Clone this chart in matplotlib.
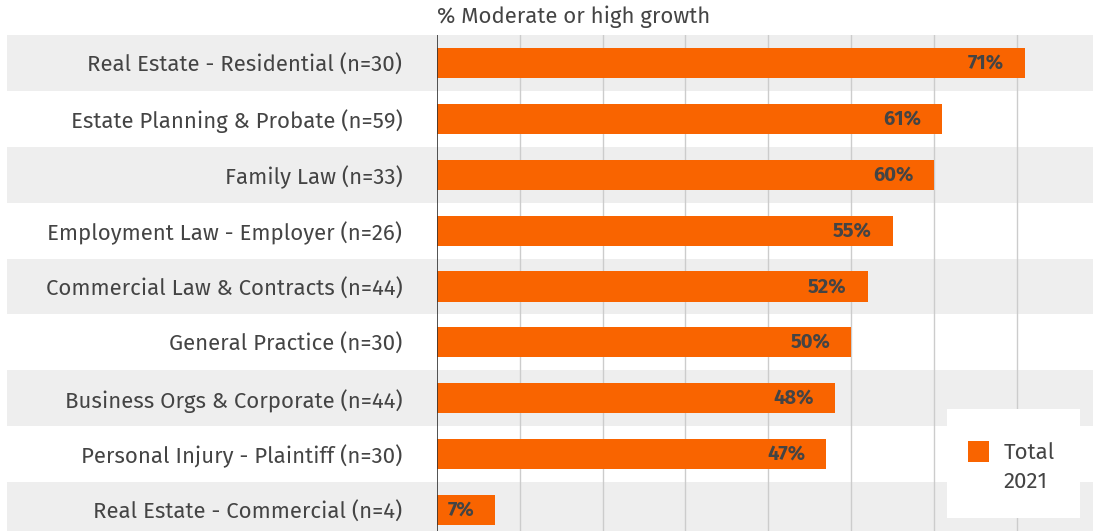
import matplotlib.pyplot as plt
from matplotlib.patches import Rectangle

categories = [
    "Real Estate - Residential (n=30)",
    "Estate Planning & Probate (n=59)",
    "Family Law (n=33)",
    "Employment Law - Employer (n=26)",
    "Commercial Law & Contracts (n=44)",
    "General Practice (n=30)",
    "Business Orgs & Corporate (n=44)",
    "Personal Injury - Plaintiff (n=30)",
    "Real Estate - Commercial (n=4)",
]
values = [71, 61, 60, 55, 52, 50, 48, 47, 7]
series_name = "Total\n2021"

orange = "#F96400"
textc = "#444444"
plt.rcParams['font.family'] = ['Fira Sans', 'Open Sans', 'DejaVu Sans']

fig = plt.figure(figsize=(10.93, 5.31), dpi=100)
ax = fig.add_axes([437 / 1093, 0, 1 - 437 / 1093, 1 - 35 / 531])

W = 1093 - 437
for i in range(len(categories)):
    if i % 2 == 0:
        ax.axhspan(i - 0.5, i + 0.5, xmin=(7 - 437) / W, xmax=1,
                   color="#eeeeee", clip_on=False, zorder=0, lw=0)

for g in range(10, 80, 10):
    ax.axvline(g, color="#cccccc", lw=1, zorder=1)

y = list(range(len(categories)))
ax.barh(y, values, height=0.54, color=orange, zorder=2)
for yi, v in zip(y, values):
    ax.annotate(f"{v}%", (v, yi), xytext=(-15, 0), textcoords="offset points",
                ha="right", va="center", fontsize=14.5, fontweight="bold",
                color=textc, zorder=3)

ax.axvline(0, color="#333333", lw=1.2, zorder=4)
ax.set_xlim(0, 79.2)
ax.set_ylim(8.375, -0.5)
ax.set_yticks(y)
ax.set_yticklabels(categories, fontsize=16, color=textc)
ax.tick_params(axis="y", length=0, pad=25)
ax.set_xticks([])
for s in ax.spines.values():
    s.set_visible(False)

fig.text(437 / 1093, 1 - 17 / 531, "% Moderate or high growth", fontsize=16,
         color=textc, ha="left", va="center")

# legend box
fig.patches.append(Rectangle((947 / 1093, 1 - 518 / 531), 133 / 1093, 109 / 531,
                             transform=fig.transFigure, facecolor="white",
                             edgecolor="none", zorder=5))
fig.patches.append(Rectangle((968 / 1093, 1 - 462 / 531), 21 / 1093, 21 / 531,
                             transform=fig.transFigure, facecolor=orange,
                             edgecolor="none", zorder=6))
fig.text(1004 / 1093, 1 - 467 / 531, series_name, fontsize=16, color=textc,
         ha="left", va="center", linespacing=1.45, zorder=7)

fig.savefig("out.png", dpi=100)
